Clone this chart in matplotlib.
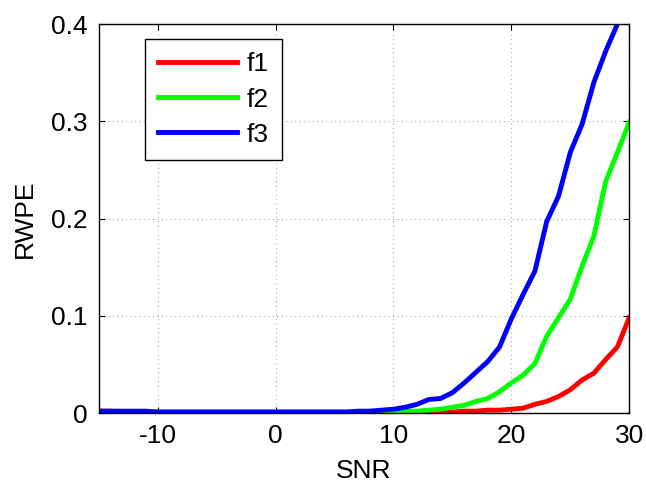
import matplotlib
matplotlib.use('Agg')
import matplotlib.pyplot as plt
import numpy as np

plt.rcParams['font.family'] = ['Liberation Sans', 'DejaVu Sans']
plt.rcParams['axes.unicode_minus'] = False

# SNR values (dB)
snr = list(range(-15, 31))

# RWPE for each feature (SNR -15 .. 30)
f1 = [0.002, 0.002, 0.001, 0.001, 0.001, 0.001, 0.001, 0.001, 0.001, 0.001,
      0.001, 0.001, 0.001, 0.001, 0.001, 0.001, 0.001, 0.001, 0.001, 0.001,
      0.001, 0.001, 0.001, 0.001, 0.001, 0.001, 0.001, 0.001, 0.001, 0.001,
      0.001, 0.002, 0.002, 0.003, 0.003, 0.004, 0.005, 0.009, 0.012, 0.017,
      0.024, 0.034, 0.041, 0.055, 0.068, 0.098]
f2 = [0.001, 0.001, 0.001, 0.001, 0.001, 0.001, 0.001, 0.001, 0.001, 0.001,
      0.001, 0.001, 0.001, 0.001, 0.001, 0.001, 0.001, 0.001, 0.001, 0.001,
      0.001, 0.001, 0.001, 0.001, 0.001, 0.001, 0.002, 0.002, 0.003, 0.004,
      0.006, 0.008, 0.012, 0.015, 0.022, 0.031, 0.039, 0.051, 0.079, 0.098,
      0.117, 0.151, 0.182, 0.238, 0.268, 0.299]
f3 = [0.002, 0.002, 0.002, 0.002, 0.002, 0.001, 0.001, 0.001, 0.001, 0.001,
      0.001, 0.001, 0.001, 0.001, 0.001, 0.001, 0.001, 0.001, 0.001, 0.001,
      0.001, 0.001, 0.002, 0.002, 0.003, 0.004, 0.006, 0.009, 0.014, 0.015,
      0.021, 0.031, 0.042, 0.053, 0.068, 0.097, 0.122, 0.146, 0.197, 0.223,
      0.268, 0.297, 0.340, 0.372, 0.400, 0.428]

fig = plt.figure(figsize=(6.46, 4.82), dpi=100)
ax = fig.add_axes([0.153, 0.143, 0.821, 0.807])

lw = 3.5
ax.plot(snr, f1, color='#ff0000', lw=lw, label='f1')
ax.plot(snr, f2, color='#00ff00', lw=lw, label='f2')
ax.plot(snr, f3, color='#0000ff', lw=lw, label='f3')

ax.set_xlim(-15, 30)
ax.set_ylim(0, 0.4)
ax.set_xticks([-10, 0, 10, 20, 30])
ax.set_yticks([0, 0.1, 0.2, 0.3, 0.4])
ax.set_yticklabels(['0', '0.1', '0.2', '0.3', '0.4'])
ax.tick_params(direction='in', top=True, right=True, labelsize=19, length=4, pad=8)
ax.grid(True, linestyle=(0, (1, 3)), color='#aaaaaa', linewidth=0.8)
for s in ax.spines.values():
    s.set_linewidth(1.0)

ax.set_xlabel('SNR', fontsize=19, labelpad=8)
ax.set_ylabel('RWPE', fontsize=19, labelpad=10)

leg = ax.legend(loc='upper left', bbox_to_anchor=(0.087, 0.961), borderaxespad=0,
                fontsize=19, handlelength=3.0, fancybox=False, framealpha=1,
                edgecolor='black', borderpad=0.5, labelspacing=0.42,
                handletextpad=0.35)
leg.get_frame().set_linewidth(1.0)

fig.savefig('out.png', dpi=100)
